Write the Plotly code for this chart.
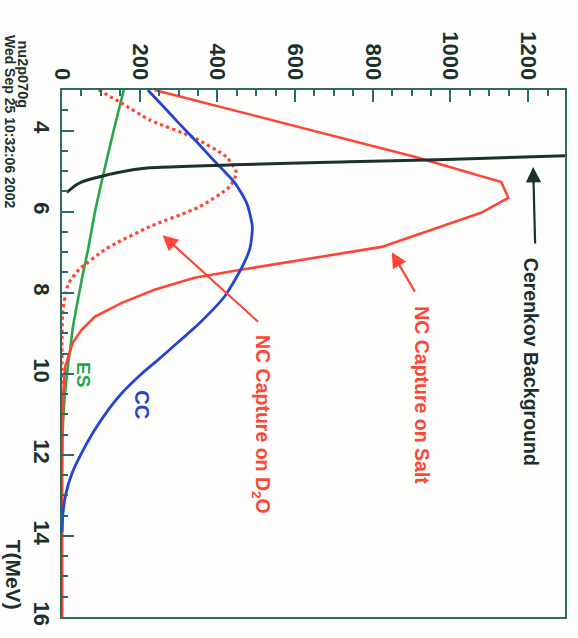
import plotly.graph_objects as go

# Expected event spectra versus electron kinetic energy T (MeV)
t_cc = [3.0, 3.5, 3.81, 4.3, 4.8, 5.29, 5.8, 6.37, 6.9, 7.36, 8.1, 8.74, 9.23, 9.65,
        10.0, 10.5, 10.88, 11.45, 12.0, 12.45, 13.0, 13.5, 13.9]
cc = [221, 270, 300, 349, 397, 445, 476, 490, 484, 464, 418, 355, 298, 248,
      205, 152, 120, 80, 48, 26, 9, 2, 0]

t_es = [3.0, 4.0, 5.14, 6.0, 6.94, 7.43, 8.17, 8.86, 9.4, 9.82, 10.46, 11.0, 11.6,
        12.5, 14.0, 16.0]
es = [159, 133, 105, 85, 67, 56, 41, 28, 21, 15, 8, 4, 1, 0, 0, 0]

t_salt = [3.0, 3.8, 4.65, 5.27, 5.66, 6.03, 6.87, 7.43, 7.63, 7.93, 8.25, 8.59, 8.91,
          9.23, 9.58, 9.82, 10.5, 11.5, 12.5, 16.0]
salt = [238, 567, 910, 1131, 1149, 1079, 823, 464, 341, 238, 154, 85, 51,
        28, 15, 8, 3, 1, 0, 0]

t_d2o = [3.0, 3.3, 3.74, 4.16, 4.65, 5.04, 5.39, 5.88, 6.37, 6.77, 6.94, 7.43, 7.75,
         8.0, 8.45, 9.0, 10.3]
d2o = [95, 149, 226, 336, 423, 449, 431, 354, 226, 141, 110, 44, 18,
       10, 2, 0, 0]

t_cer = [5.52, 5.45, 5.35, 5.27, 5.14, 5.04, 4.92, 4.77, 4.72, 4.6]
cer = [12, 22, 35, 50, 97, 141, 226, 738, 969, 1380]

val_ticks = [0, 200, 400, 600, 800, 1000, 1200]
t_ticks = [4, 6, 8, 10, 12, 14, 16]

RED = "#ff4636"
BLUE = "#2346d2"
GREEN = "#22a84a"
DARK = "#1c302d"
FRAME = "#2c6a62"
FONT = "Arial, Liberation Sans, sans-serif"

fig = go.Figure()

fig.add_trace(go.Scatter(x=es, y=t_es, mode="lines", line=dict(color=GREEN, width=2.6, shape="spline", smoothing=0.6)))
fig.add_trace(go.Scatter(x=d2o, y=t_d2o, mode="lines", line=dict(color=RED, width=3.2, dash="dot", shape="spline", smoothing=0.6)))
fig.add_trace(go.Scatter(x=salt, y=t_salt, mode="lines", line=dict(color=RED, width=2.6)))
fig.add_trace(go.Scatter(x=cc, y=t_cc, mode="lines", line=dict(color=BLUE, width=2.8, shape="spline", smoothing=0.6)))
fig.add_trace(go.Scatter(x=cer, y=t_cer, mode="lines", line=dict(color=DARK, width=3, shape="spline", smoothing=0.5)))

def label(text, x, y, color, size=19, xref="x", yref="y"):
    fig.add_annotation(text=text, x=x, y=y, xref=xref, yref=yref, textangle=90,
                       showarrow=False, xanchor="center", yanchor="middle",
                       font=dict(family=FONT, size=size, color=color, weight="bold"))

def arrow(x, y, ax, ay, color):
    fig.add_annotation(x=x, y=y, ax=ax, ay=ay, text="", showarrow=True,
                       arrowhead=2, arrowsize=1.4, arrowwidth=2.2, arrowcolor=color)

label("Cerenkov Background", 1208, 9.71, DARK, 19.5)
label("NC Capture on Salt", 926, 10.52, RED, 19.5)
label("NC Capture on D<sub>2</sub>O", 515, 11.24, RED, 19.5)
label("CC", 205, 10.77, BLUE, 20)
label("ES", 54, 10.03, GREEN, 19)

arrow(1213, 4.9, 2, 78, DARK)
arrow(849, 7.0, 24, 41, RED)
arrow(259, 6.58, 97, 88, RED)

label("T(MeV)", -0.097, 0.08, DARK, 21, "paper", "paper")
label("nu2p070g", -0.078, 1.03, DARK, 14.5, "paper", "paper")
label("Wed Sep 25 10:32:06 2002", -0.102, 0.94, DARK, 14, "paper", "paper")

axis_common = dict(
    showgrid=False, zeroline=False, showline=True, linecolor=FRAME, linewidth=2,
    mirror=True, ticks="inside", ticklen=12, tickwidth=1.5, tickcolor=FRAME,
    tickangle=90, tickfont=dict(family=FONT, size=22, color=DARK, weight="bold"),
)

fig.update_layout(
    width=578, height=638,
    margin=dict(l=62, r=11, t=90, b=21),
    paper_bgcolor="#fefefc", plot_bgcolor="#fefefc",
    showlegend=False,
    xaxis=dict(side="top", range=[0, 1295], tickvals=val_ticks,
               minor=dict(dtick=50, ticks="inside", ticklen=6, tickcolor=FRAME, tickwidth=1.5),
               **axis_common),
    yaxis=dict(range=[16, 3], tickvals=t_ticks,
               minor=dict(dtick=0.5, ticks="inside", ticklen=6, tickcolor=FRAME, tickwidth=1.5),
               **axis_common),
)

fig.write_html("out.html")
